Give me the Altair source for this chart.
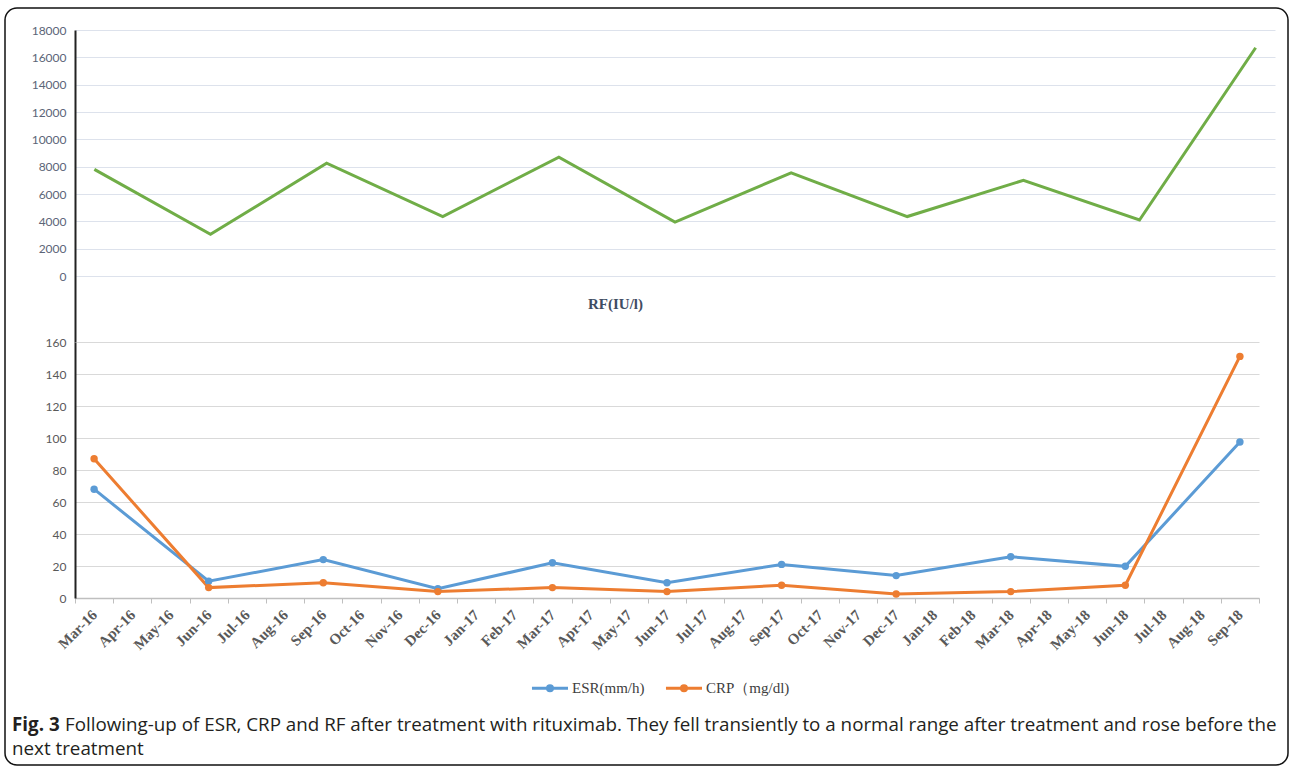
import altair as alt
import pandas as pd

# ---------------- data ----------------
months_all = ["Mar-16", "Apr-16", "May-16", "Jun-16", "Jul-16", "Aug-16", "Sep-16", "Oct-16",
              "Nov-16", "Dec-16", "Jan-17", "Feb-17", "Mar-17", "Apr-17", "May-17", "Jun-17",
              "Jul-17", "Aug-17", "Sep-17", "Oct-17", "Nov-17", "Dec-17", "Jan-18", "Feb-18",
              "Mar-18", "Apr-18", "May-18", "Jun-18", "Jul-18", "Aug-18", "Sep-18"]
visit_months = ["Mar-16", "Jun-16", "Sep-16", "Dec-16", "Mar-17", "Jun-17",
                "Sep-17", "Dec-17", "Mar-18", "Jun-18", "Sep-18"]
rf_values = [7800, 3050, 8250, 4350, 8700, 3950, 7550, 4350, 7000, 4100, 16700]
esr_values = [68, 10.5, 24, 5.8, 22, 9.5, 21, 14, 25.8, 19.8, 97.5]
crp_values = [87, 6.5, 9.5, 4, 6.5, 4, 8, 2.5, 4, 8, 151]
rf_ticks = [0, 2000, 4000, 6000, 8000, 10000, 12000, 14000, 16000, 18000]
lab_ticks = [0, 20, 40, 60, 80, 100, 120, 140, 160]
series_names = ["ESR(mm/h)", "CRP\uff08mg/dl)"]
series_colors = ["#5b9bd5", "#ed7d31"]
caption_bold = "Fig. 3"
caption_line1 = ("Following-up of ESR, CRP and RF after treatment with rituximab. They fell transiently "
                 "to a normal range after treatment and rose before the")
caption_line2 = "next treatment"

rf_df = pd.DataFrame({"month": visit_months, "rf": rf_values})
lab_df = pd.concat([
    pd.DataFrame({"month": visit_months, "value": esr_values, "series": series_names[0]}),
    pd.DataFrame({"month": visit_months, "value": crp_values, "series": series_names[1]}),
])
one = pd.DataFrame({"k": [0]})

AX_FONT = "Lato"
SERIF = "Liberation Serif"
CAP_FONT = "Open Sans"
CAP_SIZE = 18.8

# ---------------- top panel (RF) ----------------
top = alt.Chart(rf_df).mark_line(color="#70ad47", strokeWidth=3).encode(
    x=alt.X("month:N", sort=months_all,
            scale=alt.Scale(type="band", domain=months_all, paddingInner=0, paddingOuter=0),
            axis=alt.Axis(labels=False, ticks=False, domain=False, grid=False,
                          title="RF(IU/l)", titleFont=SERIF, titleFontSize=15,
                          titleFontWeight="bold", titleColor="#3f4d63",
                          titleX=540, titleY=-39, titleAlign="center",
                          titleBaseline="middle")),
    y=alt.Y("rf:Q", scale=alt.Scale(domain=[-4829, 18000], nice=False, zero=False),
            axis=alt.Axis(values=rf_ticks, format="d", title=None, grid=True,
                          gridColor="#dde2ec", gridWidth=1, domainColor="#222222",
                          domainWidth=2, ticks=False, labelFont=AX_FONT, labelFontSize=12,
                          labelColor="#5b6577", labelPadding=9)),
).properties(width=1200, height=312)

# ---------------- bottom panel (ESR / CRP) ----------------
x_bot = alt.X("month:N", sort=months_all,
              scale=alt.Scale(type="band", domain=months_all, paddingInner=0, paddingOuter=0),
              axis=alt.Axis(title=None, labelAngle=315, labelFont=SERIF, labelFontSize=15,
                            labelFontWeight="bold", labelColor="#595959", labelPadding=4,
                            labelOffset=-5,
                            domainColor="#bfbfbf", domainWidth=1.5, tickColor="#bfbfbf",
                            tickSize=5, tickBand="extent", grid=False))
y_bot = alt.Y("value:Q", scale=alt.Scale(domain=[0, 160], nice=False),
              axis=alt.Axis(values=lab_ticks, format="d", title=None, grid=True,
                            gridColor="#d9d9d9", domainColor="#222222", domainWidth=2,
                            ticks=False, labelFont=AX_FONT, labelFontSize=12,
                            labelColor="#595959", labelPadding=9))
color = alt.Color("series:N", sort=series_names,
                  scale=alt.Scale(domain=series_names, range=series_colors),
                  legend=alt.Legend(title=None, orient="none", legendX=455, legendY=326,
                                    direction="horizontal", columnPadding=14,
                                    labelFont=SERIF, labelFontSize=15, labelColor="#404040",
                                    symbolType="M-1,0H1M-0.14,0a0.14,0.14 0 1,0 0.28,0a0.14,0.14 0 1,0 -0.28,0",
                                    symbolSize=1300, symbolStrokeWidth=3, labelOffset=2))

lines = alt.Chart(lab_df).mark_line(strokeWidth=3).encode(x=x_bot, y=y_bot, color=color)
pts = alt.Chart(lab_df).mark_circle(size=55, opacity=1).encode(x=x_bot, y=y_bot, color=color)

frame = alt.Chart(one).mark_rect(fill="white", fillOpacity=0, stroke="#111111",
                                 strokeWidth=1.5, cornerRadius=12).encode(
    x=alt.value(-70), x2=alt.value(1213), y=alt.value(-334), y2=alt.value(423))

cap_b = alt.Chart(one).mark_text(align="left", baseline="alphabetic", font=CAP_FONT,
                                 fontSize=CAP_SIZE, fontWeight="bold", color="#231f20").encode(
    x=alt.value(-63), y=alt.value(389), text=alt.value(caption_bold))
cap_1 = alt.Chart(one).mark_text(align="left", baseline="alphabetic", font=CAP_FONT,
                                 fontSize=CAP_SIZE, color="#231f20").encode(
    x=alt.value(-10), y=alt.value(389), text=alt.value(caption_line1))
cap_2 = alt.Chart(one).mark_text(align="left", baseline="alphabetic", font=CAP_FONT,
                                 fontSize=CAP_SIZE, color="#231f20").encode(
    x=alt.value(-63), y=alt.value(413), text=alt.value(caption_line2))

bottom = alt.layer(lines, pts, frame, cap_b, cap_1, cap_2).properties(width=1184, height=256)

chart = alt.vconcat(top, bottom, spacing=0, bounds="flush").resolve_legend(
    color="independent").properties(
    padding={"left": 4, "top": 7, "right": 3, "bottom": 4},
    background="white",
).configure_view(stroke=None)

chart.save("out.html", embed_options={"renderer": "svg", "actions": False})
